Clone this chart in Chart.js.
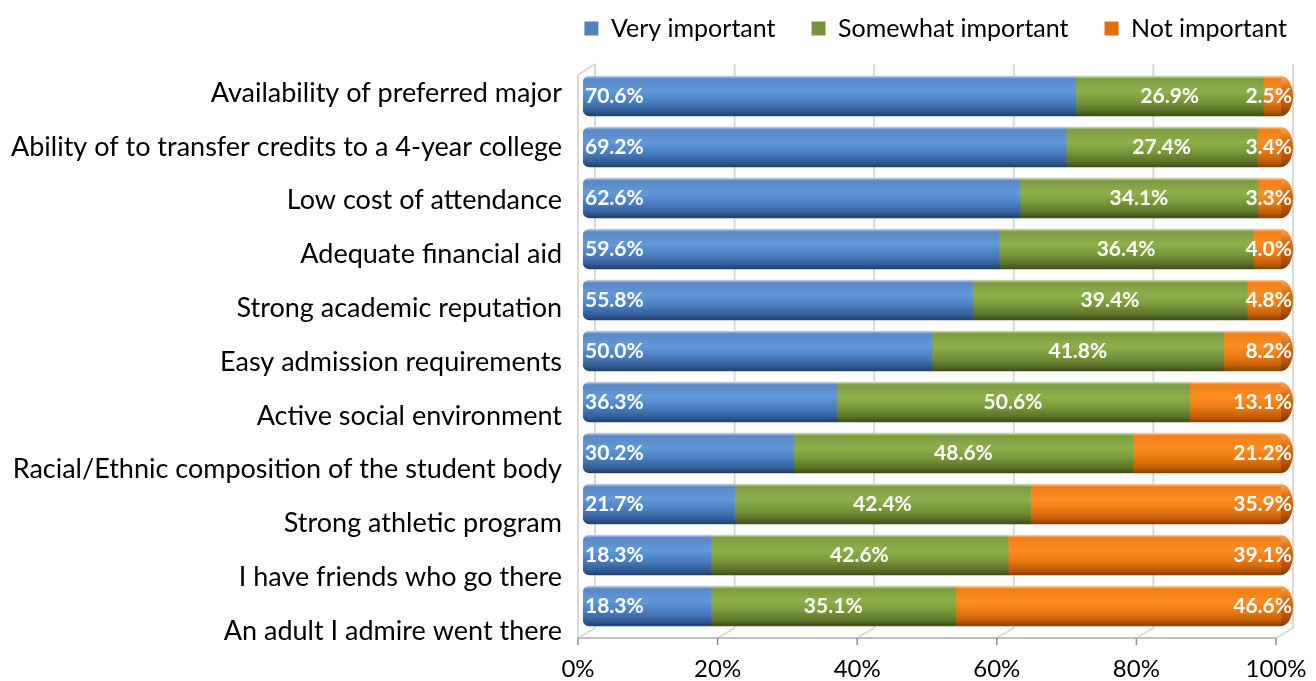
<!DOCTYPE html>
<html>
<head>
<meta charset="utf-8">
<script src="https://cdn.jsdelivr.net/npm/chart.js@4/dist/chart.umd.min.js"></script>
<style>
  html, body { margin: 0; padding: 0; background: #fff; }
  #wrap { width: 1316px; height: 681px; }
</style>
</head>
<body>
<div id="wrap"><canvas id="chart"></canvas></div>
<script>
const categories = [
  "Availability of preferred major",
  "Ability of to transfer credits to a 4-year college",
  "Low cost of attendance",
  "Adequate financial aid",
  "Strong academic reputation",
  "Easy admission requirements",
  "Active social environment",
  "Racial/Ethnic composition of the student body",
  "Strong athletic program",
  "I have friends who go there",
  "An adult I admire went there",
];
const veryImportant = [70.6, 69.2, 62.6, 59.6, 55.8, 50.0, 36.3, 30.2, 21.7, 18.3, 18.3];
const somewhatImportant = [26.9, 27.4, 34.1, 36.4, 39.4, 41.8, 50.6, 48.6, 42.4, 42.6, 35.1];
const notImportant = [2.5, 3.4, 3.3, 4.0, 4.8, 8.2, 13.1, 21.2, 35.9, 39.1, 46.6];
const seriesNames = ["Very important", "Somewhat important", "Not important"];
const xTicks = [0, 20, 40, 60, 80, 100];

const FONT = "Lato, Carlito, Calibri, 'Open Sans', sans-serif";
const BAR_H = 40;
const legendColors = ["#4f81bd", "#77933c", "#e46c0a"];

// vertical shading so each bar reads like a cylinder
const shades = [
  [[0, "#c3d3e8"], [0.07, "#5a88c6"], [0.38, "#6098da"], [0.62, "#4c80c2"], [0.86, "#34609c"], [1, "#213f69"]],
  [[0, "#d0ddb6"], [0.07, "#7c9c40"], [0.38, "#8db04b"], [0.62, "#7a993b"], [0.86, "#5a7429"], [1, "#3b4e18"]],
  [[0, "#fcd0a8"], [0.07, "#f27f14"], [0.38, "#fc8d26"], [0.62, "#ee7b12"], [0.86, "#c45f06"], [1, "#8a4100"]],
];

function cylinder(stops) {
  return (ctx) => {
    const chart = ctx.chart;
    if (!chart.chartArea || ctx.type !== "data") return stops[2][1];
    const yc = chart.scales.y.getPixelForValue(ctx.dataIndex);
    const g = chart.ctx.createLinearGradient(0, yc - BAR_H / 2, 0, yc + BAR_H / 2);
    stops.forEach(([o, c]) => g.addColorStop(o, c));
    return g;
  };
}

const toPoints = (arr) => arr.map((v, i) => ({ x: v, y: i }));

// back wall, side wall and floor of the 3-D frame
const frame3d = {
  id: "frame3d",
  beforeDatasetsDraw(chart) {
    const { ctx, chartArea: a, scales } = chart;
    const x = scales.x;
    const top = a.top + 13;
    const front = a.bottom;
    const back = a.bottom - 10;
    const line = (x1, y1, x2, y2) => {
      ctx.beginPath();
      ctx.moveTo(x1, y1);
      ctx.lineTo(x2, y2);
      ctx.stroke();
    };
    ctx.save();
    ctx.strokeStyle = "#d9d9d9";
    ctx.lineWidth = 2;
    xTicks.forEach((v) => {
      const px = x.getPixelForValue(v);
      line(px + 12, top, px + 12, back);
      line(px + 12, back, px - 5, front);
    });
    const x0 = x.getPixelForValue(0);
    const x1 = x.getPixelForValue(100);
    // left side wall
    line(x0 - 5, top + 11, x0 + 12, top);
    line(x0 - 5, top + 11, x0 - 5, front);
    // front floor edge and tick marks
    ctx.strokeStyle = "#bfbfbf";
    line(x0 - 5, front, x1 - 5, front);
    ctx.strokeStyle = "#8c8c8c";
    ctx.lineWidth = 1.5;
    xTicks.forEach((v) => {
      const px = x.getPixelForValue(v) - 5;
      line(px, front, px, front + 7);
    });
    ctx.restore();
  },
};

// end caps on the last segment and the value labels
const barLabels = {
  id: "barLabels",
  afterDatasetsDraw(chart) {
    const { ctx } = chart;
    ctx.save();
    const capMeta = chart.getDatasetMeta(2);
    capMeta.data.forEach((bar) => {
      const g = ctx.createLinearGradient(0, bar.y - bar.height / 2, 0, bar.y + bar.height / 2);
      g.addColorStop(0, "#f6a45a");
      g.addColorStop(0.3, "#e2700c");
      g.addColorStop(0.75, "#b85500");
      g.addColorStop(1, "#7c3a00");
      ctx.fillStyle = g;
      ctx.beginPath();
      ctx.ellipse(bar.x, bar.y, 12, bar.height / 2, 0, -Math.PI / 2, Math.PI / 2);
      ctx.closePath();
      ctx.fill();
    });

    ctx.fillStyle = "#ffffff";
    ctx.font = "bold 21px " + FONT;
    ctx.textBaseline = "middle";
    chart.data.datasets.forEach((ds, i) => {
      chart.getDatasetMeta(i).data.forEach((bar, j) => {
        const text = ds.data[j].x.toFixed(1) + "%";
        let tx;
        if (i === 0) {
          ctx.textAlign = "left";
          tx = bar.base + 2;
        } else if (i === 1) {
          ctx.textAlign = "center";
          tx = (bar.base + bar.x) / 2;
        } else {
          ctx.textAlign = "right";
          tx = bar.x + 11;
        }
        ctx.fillText(text, tx, bar.y);
      });
    });
    ctx.restore();
  },
};

new Chart(document.getElementById("chart"), {
  type: "bar",
  data: {
    labels: categories,
    datasets: [
      {
        label: seriesNames[0],
        data: toPoints(veryImportant),
        backgroundColor: cylinder(shades[0]),
        borderSkipped: false,
        borderRadius: { topLeft: 7, bottomLeft: 7, topRight: 0, bottomRight: 0 },
      },
      {
        label: seriesNames[1],
        data: toPoints(somewhatImportant),
        backgroundColor: cylinder(shades[1]),
      },
      {
        label: seriesNames[2],
        data: toPoints(notImportant),
        backgroundColor: cylinder(shades[2]),
      },
    ],
  },
  options: {
    indexAxis: "y",
    responsive: true,
    maintainAspectRatio: false,
    animation: false,
    barThickness: BAR_H,
    layout: { padding: { top: -20, right: -7, left: 0, bottom: 0 } },
    scales: {
      x: {
        stacked: true,
        min: 0,
        max: 100,
        bounds: "data",
        grid: { display: false, drawTicks: false },
        border: { display: false },
        afterBuildTicks: (s) => { s.ticks = xTicks.map((v) => ({ value: v })); },
        afterFit: (s) => {
          s.height = 43;
          s.paddingLeft = 0;
          s.paddingRight = 0;
        },
        ticks: {
          padding: 17,
          labelOffset: -5,
          color: "#000",
          font: { family: FONT, size: 24 },
          callback: (v) => v + "%",
        },
      },
      y: {
        type: "linear",
        stacked: true,
        reverse: true,
        offset: false,
        position: "right",
        bounds: "data",
        min: -0.882,
        max: 10.627,
        grid: { display: false, drawTicks: false },
        border: { display: false },
        ticks: { display: false },
        afterFit: (s) => { s.width = 42; },
      },
      yl: {
        type: "linear",
        axis: "y",
        reverse: true,
        offset: false,
        position: "left",
        bounds: "data",
        min: -0.781,
        max: 10.13,
        grid: { display: false, drawTicks: false },
        border: { display: false },
        afterBuildTicks: (s) => { s.ticks = categories.map((_, i) => ({ value: i })); },
        afterFit: (s) => { s.width = 583; },
        ticks: {
          autoSkip: false,
          padding: 21,
          color: "#000",
          font: { family: FONT, size: 27 },
          callback: (v) => categories[v],
        },
      },
    },
    plugins: {
      tooltip: { enabled: false },
      legend: {
        position: "top",
        align: "end",
        labels: {
          color: "#000",
          font: { family: FONT, size: 25 },
          boxWidth: 14,
          boxHeight: 14,
          padding: 36,
          generateLabels: (chart) =>
            chart.data.datasets.map((ds, i) => ({
              text: ds.label,
              fillStyle: legendColors[i],
              strokeStyle: legendColors[i],
              lineWidth: 0,
              hidden: false,
              datasetIndex: i,
              fontColor: "#000",
            })),
        },
      },
    },
  },
  plugins: [frame3d, barLabels],
});
</script>
</body>
</html>
